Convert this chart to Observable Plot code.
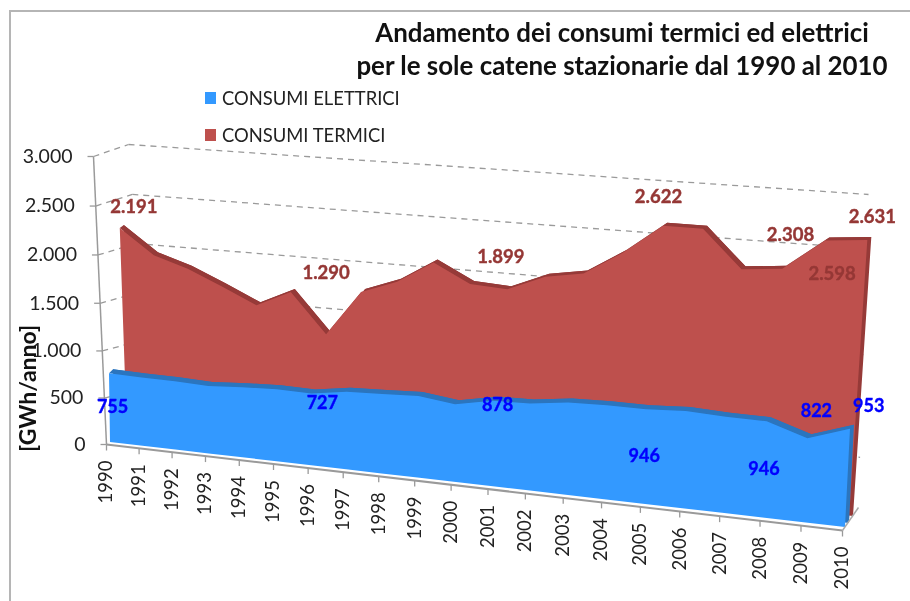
<!DOCTYPE html>
<html><head><meta charset="utf-8">
<script src="https://cdn.jsdelivr.net/npm/d3@7"></script>
<script src="https://cdn.jsdelivr.net/npm/@observablehq/plot@0.6"></script>
<style>
html,body{margin:0;padding:0;background:#fff;width:910px;height:601px;overflow:hidden}
#page{position:relative;width:910px;height:601px;font-family:Lato,sans-serif;color:#111;filter:blur(.4px)}
#border{position:absolute;left:8.5px;top:10px;right:-5px;bottom:-5px;border-left:2px solid #b5b5b5;border-top:2px solid #b5b5b5}
#head{position:relative;height:140px}
h1{position:absolute;left:322px;width:600px;margin:0;text-align:center;font-size:25.9px;font-weight:700;line-height:33px;top:16px;color:#111}
.lg{position:absolute;left:222px;font-size:18.4px;line-height:20px;color:#222}
.lg i{position:absolute;left:-17px;top:4px;width:11px;height:12px}
#chart{position:relative}
#chart svg{display:block}
</style></head><body>
<div id="page"><div id="border"></div>
<div id="head">
<h1>Andamento dei consumi termici ed elettrici<br>per le sole catene stazionarie dal 1990 al 2010</h1>
<div class="lg" style="top:88px"><i style="background:#3399FF"></i>CONSUMI ELETTRICI</div>
<div class="lg" style="top:124.5px"><i style="background:#BE504D"></i>CONSUMI TERMICI</div>
</div>
<div id="chart"></div></div>
<script>
// ---- values (GWh/anno)
const years = [1990,1991,1992,1993,1994,1995,1996,1997,1998,1999,2000,2001,2002,2003,2004,2005,2006,2007,2008,2009,2010];
const elettrici = [755,747,741,727,753,768,760,817,832,848,802,878,888,937,946,946,968,951,946,822,953];
const termici = [2191,1940,1830,1680,1519,1685,1290,1747,1880,2100,1921,1899,2051,2113,2340,2622,2622,2273,2308,2598,2631];
const yTicks = [0,500,1000,1500,2000,2500,3000];

// data labels as printed on the chart, with where they float (year, level on the series plane)
const termLabels = ["2.191","1.290","1.899","2.622","2.308","2.598","2.631"];
const termLabelYears = [1990.43,1996,2000.8,2004.84,2008.14,2009.2,2010.07];
const termLabelLevels = [2420,1910,2211,2886,2631,2299,2845];
const elLabels = ["755","727","878","946","946","822","953"];
const elLabelYears = [1990.08,1996.3,2001.13,2004.98,2007.97,2009.17,2010.4];
const elLabelLevels = [388,671,845,482,483,1097,1190];

// ---- the 3D view: each plane is the quadrilateral [year0/v0, year1/v0, year0/vMax, year1/vMax] seen on screen
const view = {
  front:    [[106,444],[842,530],[93,156],[860,205]],
  wall:     [[150,433],[858,507],[128,144],[868,194]],
  blue:     [[110,442],[845,527],[106,164],[861,212]],
  red:      [[127,436],[849,519],[117,148],[870,199]]
};
const shift = (q,dx,dy)=>q.map(([a,b])=>[a+dx,b+dy]);
view.blueBack = shift(view.blue,4,-4);
view.redBack = shift(view.red,4,-3);

function plane(q){
  // unit square -> quadrilateral homography
  const [[x0,y0],[x1,y1],[x2,y2],[x3,y3]] = q;
  const dx1=x1-x3, dx2=x2-x3, sx=x0-x1+x3-x2, dy1=y1-y3, dy2=y2-y3, sy=y0-y1+y3-y2;
  const det=dx1*dy2-dx2*dy1;
  const g=(sx*dy2-dx2*sy)/det, h=(dx1*sy-sx*dy1)/det;
  const a=x1-x0+g*x1, b=x2-x0+h*x2, d=y1-y0+g*y1, e=y2-y0+h*y2;
  return (year,v)=>{
    const u=(year-1990)/20, w=v/3000, k=g*u+h*w+1;
    return [(a*u+b*w+x0)/k,(d*u+e*w+y0)/k];
  };
}
const P = Object.fromEntries(Object.entries(view).map(([k,q])=>[k,plane(q)]));

const series = (vals,front,back)=>years.map((yr,i)=>{
  const t=P[front](yr,vals[i]), b=P[front](yr,0), tb=P[back](yr,vals[i]), bb=P[back](yr,0);
  return {tx:t[0],ty:t[1],bx:b[0],by:b[1],tbx:tb[0],tby:tb[1],bbx:bb[0],bby:bb[1]};
});
const red = series(termici,"red","redBack");
const blue = series(elettrici,"blue","blueBack");

const faces = (rows,face,dark)=>[
  Plot.area(rows,{x1:"bbx",y1:"bby",x2:"tbx",y2:"tby",fill:dark}),
  Plot.area(rows,{x1:"tx",y1:"ty",x2:"tbx",y2:"tby",fill:dark}),
  Plot.area(rows,{x1:"bx",y1:"by",x2:"tx",y2:"ty",fill:face})
];

const link = (pa,pb)=>({x1:pa[0],y1:pa[1],x2:pb[0],y2:pb[1]});
const sideLines = yTicks.map(v=>link(P.front(1990,v),P.wall(1990,v)));
const wallLines = yTicks.map(v=>link(P.wall(1990,v),P.wall(2010,v)));
const yLab = yTicks.map(v=>{const p=P.front(1990,v);return {x:p[0],y:p[1],s:d3.format(",")(v).replace(",",".")}});
const xLab = years.map(yr=>{const p=P.front(yr,0);return {x:p[0],y:p[1],s:String(yr)}});
const lab = (texts,ys,ls,pl)=>texts.map((s,i)=>{const p=P[pl](ys[i],ls[i]);return {x:p[0],y:p[1],s}});
const grid = {stroke:"#9a9a9a",strokeWidth:1.3,strokeDasharray:"6,5"};
const ends = {x1:"x1",y1:"y1",x2:"x2",y2:"y2"};

const chart = Plot.plot({
  width:910,height:461,margin:0,
  x:{domain:[0,910],range:[0,910],axis:null},
  y:{domain:[140,601],range:[0,461],axis:null},
  style:{background:"transparent",fontFamily:"Lato,sans-serif"},
  marks:[
    Plot.link(wallLines.slice(1),{...ends,...grid}),
    Plot.link(sideLines.slice(1),{...ends,...grid}),
    ...faces(red,"#BE504D","#963A38"),
    ...faces(blue,"#3399FF","#2B75BE"),
    // floor and axes
    Plot.link([link(P.front(1990,0),P.front(2010,0))],{...ends,stroke:"#9a9a9a",strokeWidth:2}),
    Plot.link([link(P.front(2010,0),P.wall(2010,0))],{...ends,stroke:"#aaa",strokeWidth:1.5}),
    Plot.link([link(P.front(1990,0),P.front(1990,3000))],{...ends,stroke:"#9a9a9a",strokeWidth:1.5}),
    Plot.link(yLab,{x1:d=>d.x-6,y1:"y",x2:"x",y2:"y",stroke:"#9a9a9a",strokeWidth:1.3}),
    Plot.link(xLab,{x1:"x",y1:"y",x2:"x",y2:d=>d.y+6,stroke:"#9a9a9a",strokeWidth:1.3}),
    Plot.text(yLab,{x:"x",y:"y",text:"s",dx:-21,textAnchor:"end",fontSize:19.5,fill:"#222"}),
    Plot.text(xLab,{x:"x",y:"y",text:"s",dy:16,rotate:-90,textAnchor:"end",fontSize:18.5,fill:"#222"}),
    Plot.text(["[GWh/anno]"],{frameAnchor:"left",dx:28,dy:81,rotate:-90,fontSize:23,fontWeight:700,fill:"#111"}),
    Plot.text(lab(termLabels,termLabelYears,termLabelLevels,"red"),{x:"x",y:"y",text:"s",fontSize:18.5,fontWeight:700,fill:"#953735",stroke:"#953735",strokeWidth:.4}),
    Plot.text(lab(elLabels,elLabelYears,elLabelLevels,"blue"),{x:"x",y:"y",text:"s",fontSize:18,fontWeight:700,fill:"#0000FF",stroke:"#0000FF",strokeWidth:.4})
  ]
});
document.getElementById("chart").appendChild(chart);
</script></body></html>
